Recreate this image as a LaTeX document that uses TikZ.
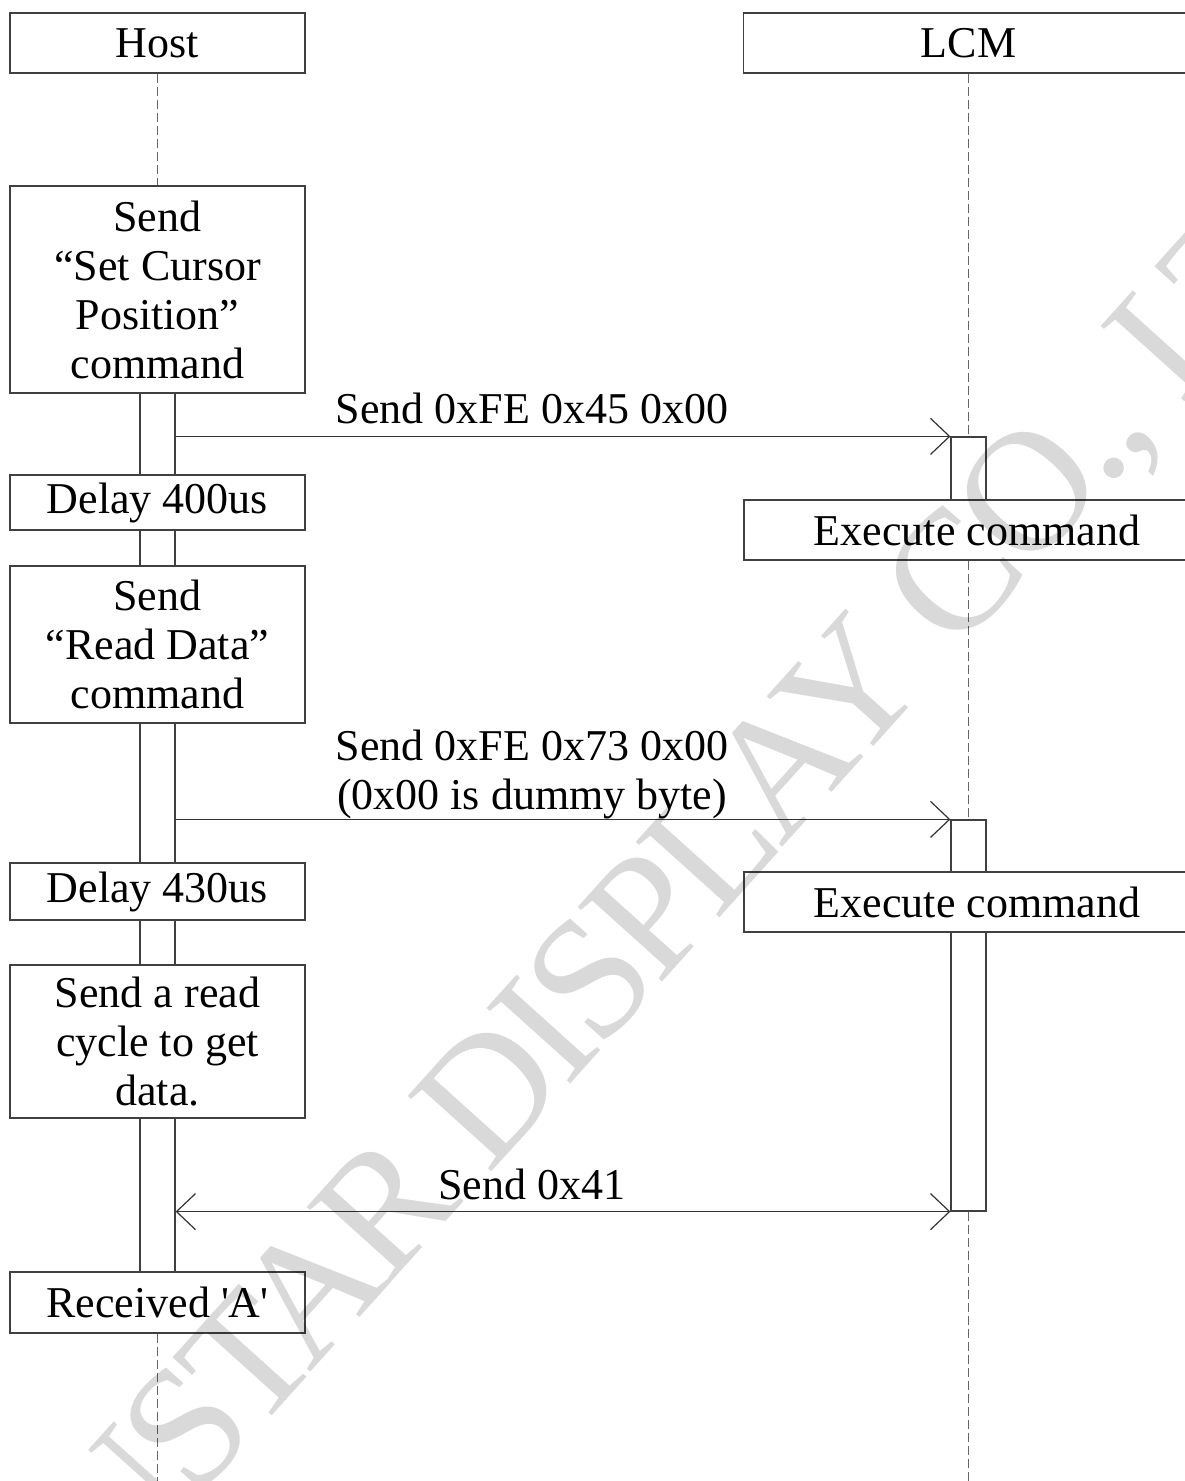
\documentclass[tikz,border=0pt]{standalone}
\usepackage{fontspec}
\setmainfont{Liberation Serif}[Ligatures=TeXOff]
\newfontfamily\markfont{Liberation Serif}[LetterSpace=-4.5]
\usetikzlibrary{arrows.meta}

\newcommand{\seqfont}{\fontsize{22}{24.5}\selectfont}

\tikzset{
  % ----- boxes sitting on the lifelines
  lifebox/.style={draw=black!75, fill=white, line width=0.6pt, align=center,
    inner sep=0pt, font=\seqfont},
  hostbox/.style={lifebox, minimum width=147.5pt},
  lcmbox/.style={lifebox, minimum width=225pt},
  execbox/.style={lifebox, minimum width=233pt, minimum height=30pt},
  % ----- activation bars
  actbar/.style={draw=black!75, fill=white, line width=0.6pt,
    minimum width=17.5pt, inner sep=0pt},
  lifeline/.style={draw=black!60, line width=0.5pt, dash pattern=on 4.5pt off 2pt},
  msg/.style={draw=black!80, line width=0.6pt},
  msglabel/.style={font=\seqfont, align=center, inner sep=0pt},
  watermark/.style={font=\markfont\fontsize{86}{86}\selectfont, rotate=48,
    text=black, opacity=0.15, inner sep=0pt}
}

\begin{document}
\begin{tikzpicture}[
                x = 0.5pt, y = -0.5pt, % pixel grid of the page
                > = {Straight Barb[length=9.5pt,width=18pt]} % open arrow head
            ]
        \useasboundingbox (0,0) rectangle (1184,1481);

        % heads
        \node[hostbox, minimum height=30pt] (host) at (157.5,43) {Host};
        \node[lcmbox, minimum height=30pt] (lcm) at (968.5,43) {LCM};

        % activation bars
        \node[actbar, minimum height=439.5pt] (hbar) at (157.5,832.5) {};
        \node[actbar, minimum height=31.5pt] (lbarA) at (968.5,468.5) {};
        \node[actbar, minimum height=195.5pt] (lbarB) at (968.5,1015.5) {};

        % host steps
        \node[hostbox, minimum height=103.5pt] (setcur) at (157.5,289.5)
            {Send\\“Set Cursor\\Position”\\command};
        \node[hostbox, minimum height=27.5pt] (delayA) at (157.5,502.5) {Delay 400us};
        \node[hostbox, minimum height=78.5pt] (readcmd) at (157.5,644.5)
            {Send\\“Read Data”\\command};
        \node[hostbox, minimum height=28.5pt] (delayB) at (157.5,891.5) {Delay 430us};
        \node[hostbox, minimum height=76.5pt] (readcyc) at (157.5,1041.5)
            {Send a read\\cycle to get\\data.};
        \node[hostbox, minimum height=30.5pt] (recv) at (157.5,1302.5) {Received 'A'};

        % lcm steps
        \node[execbox] (execA) at (977,530) {Execute command};
        \node[execbox] (execB) at (977,902) {Execute command};

        % lifelines
        \coordinate (hostend) at (157.5,1481);
        \coordinate (lcmend) at (968.5,1481);
        \draw[lifeline] (host.south) -- (setcur.north);
        \draw[lifeline] (recv.south) -- (hostend);
        \draw[lifeline] (lcm.south) -- (lbarA.north);
        \draw[lifeline] (lbarB.north |- execA.south) -- (lbarB.north);
        \draw[lifeline] (lbarB.south) -- (lcmend);

        % messages
        \draw[msg, ->] (hbar.east |- lbarA.north) -- (lbarA.north west)
            node[msglabel, pos=0.46, above=5.75pt] (msgA) {Send 0xFE 0x45 0x00};
        \draw[msg, ->] (hbar.east |- lbarB.north) -- (lbarB.north west)
            node[msglabel, pos=0.46, above=0pt] (msgB) {Send 0xFE 0x73 0x00\\(0x00 is dummy byte)};
        \draw[msg, <->] (hbar.east |- lbarB.south) -- (lbarB.south west)
            node[msglabel, pos=0.46, above=5.75pt] (msgC) {Send 0x41};

        % watermark
        \node[watermark] (wm) at (650,930) {WINSTAR DISPLAY CO., LTD};
    \end{tikzpicture}
\end{document}
